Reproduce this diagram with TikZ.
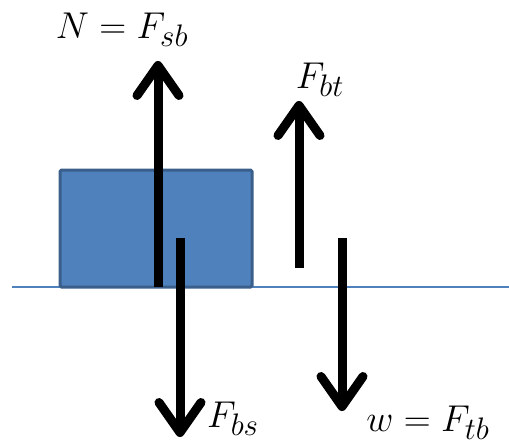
\documentclass[tikz,border=0pt]{standalone}
\usetikzlibrary{arrows.meta}
\definecolor{blockfill}{HTML}{4F81BD}
\definecolor{blockedge}{HTML}{3A5F8B}
\definecolor{groundcol}{HTML}{4F81BD}
\tikzset{
  force/.style={line width=9pt, -{Straight Barb[round,length=30pt,width=42pt]}},
  lbl/.style={anchor=base, inner sep=0pt, font=\Huge, scale=1.5},
  blockbox/.style={fill=blockfill, draw=blockedge, line width=3pt, rounded corners=1.5pt},
}
\begin{document}
\begin{tikzpicture}[x=1pt,y=-1pt]
\useasboundingbox (0,0) rectangle (509,445);
% ground
\coordinate (gL) at (12,287);
\coordinate (gR) at (509,287);
\draw[groundcol, line width=2pt] (gL) -- (gR);
% block
\draw[blockbox] (60,170) rectangle (252,287);
% force endpoints
\coordinate (Nb) at (158,287);
\coordinate (Nt) at (158,61);
\coordinate (Bst) at (180,238);
\coordinate (Bsb) at (180,437);
\coordinate (Btb) at (299,268);
\coordinate (Btt) at (299,101);
\coordinate (Wt) at (342,238);
\coordinate (Wb) at (342,411);
\draw[force] (Nb) -- (Nt);
\draw[force] (Bst) -- (Bsb);
\draw[force] (Btb) -- (Btt);
\draw[force] (Wt) -- (Wb);
% labels
\node[lbl] (lN) at (122,38) {$N = F_{sb}$};
\node[lbl] (lBt) at (320,88) {$F_{bt}$};
\node[lbl] (lBs) at (233,427) {$F_{bs}$};
\node[lbl] (lW) at (428,431) {$w = F_{tb}$};
\end{tikzpicture}
\end{document}
